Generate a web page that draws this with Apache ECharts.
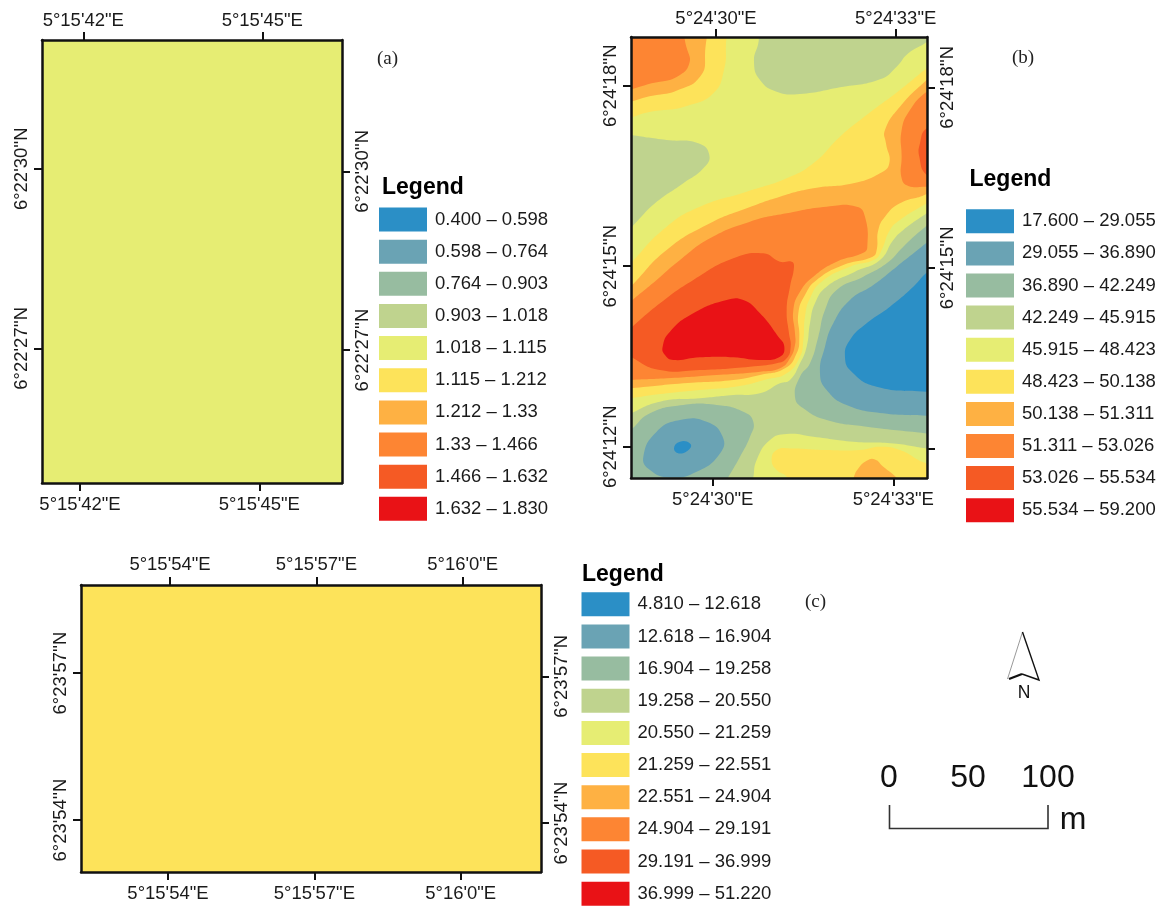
<!DOCTYPE html>
<html>
<head>
<meta charset="utf-8">
<style>html,body{margin:0;padding:0;background:#fff}#chart{width:1163px;height:906px}</style>
<script src="https://cdn.jsdelivr.net/npm/echarts@6/dist/echarts.min.js"></script>
</head>
<body>
<div id="chart"></div>
<script>
// Class colours, lowest to highest
const classColors = ['#2B8FC6','#6AA3B4','#97BCA0','#BFD38E','#E6ED73','#FDE35A','#FEB143','#FD8533','#F55A24','#E91216'];

// Class breaks read from the three legends
const breaksA = ['0.400','0.598','0.764','0.903','1.018','1.115','1.212','1.33','1.466','1.632','1.830'];
const breaksB = ['17.600','29.055','36.890','42.249','45.915','48.423','50.138','51.311','53.026','55.534','59.200'];
const breaksC = ['4.810','12.618','16.904','19.258','20.550','21.259','22.551','24.904','29.191','36.999','51.220'];

// Tick positions (arc seconds) and their labels
const ticksA_E = [42, 45];
const ticksA_N = [27, 30];
const ticksB_E = [30, 33];
const ticksB_N = [12, 15, 18];
const ticksB_NRightLabels = [15, 18];
const ticksC_E = [54, 57, 60];
const ticksC_N = [54, 57];
const prefixA_E = "5°15'", prefixA_N = "6°22'";
const prefixB_E = "5°24'", prefixB_N = "6°24'";
const prefixC_N = "6°23'";

const b_c3_top = [[490,50],[475,130],[462,185],[480,240],[530,275],[600,282],[720,262],[840,238],[890,200],[925,160],[985,122],[1050,60]];
const b_c3_left = [[30,395],[92,405],[200,420],[295,430],[328,465],[310,505],[250,550],[165,610],[110,665],[30,745]];
const b_ge5_topleft = [[30,30],[380,30],[378,130],[372,210],[340,280],[260,318],[170,332],[30,340]];
const b_ge6_topleft = [[30,30],[298,30],[315,170],[300,230],[240,268],[170,285],[30,292]];
const b_ge7_topleft = [[30,30],[215,30],[262,150],[268,190],[240,225],[180,245],[30,254]];
const b_ge5_main = [[30,860],[92,790],[200,680],[300,620],[440,575],[560,535],[640,490],[720,410],[800,345],[900,270],[980,205],[1050,150],[1050,565],[980,610],[900,660],[870,690],[845,750],[825,778],[750,800],[665,845],[630,895],[615,950],[610,1020],[600,1070],[560,1120],[500,1138],[420,1158],[300,1170],[200,1180],[92,1195],[30,1205]];
const b_ge6_main = [[30,920],[92,860],[200,750],[330,670],[440,625],[540,590],[640,565],[760,550],[840,520],[868,490],[858,430],[855,390],[900,320],[980,240],[1050,180],[1050,535],[980,582],[900,610],[855,650],[835,690],[830,750],[818,770],[730,795],[650,840],[615,885],[595,940],[598,1010],[590,1060],[555,1105],[480,1125],[400,1140],[250,1150],[92,1165],[30,1170]];
const b_ge7_main = [[30,960],[92,905],[170,840],[240,780],[330,715],[450,665],[560,640],[680,620],[770,620],[795,650],[802,740],[790,758],[710,785],[640,830],[600,875],[580,930],[585,1000],[585,1035],[570,1075],[540,1105],[480,1115],[350,1125],[200,1135],[92,1140],[30,1145]];
const b_ge7_right = [[1050,235],[980,275],[930,330],[905,390],[905,470],[905,535],[925,558],[980,560],[1050,560]];
const b_ge8_right = [[1050,360],[980,385],[960,430],[958,470],[980,525],[1050,560]];
const b_ge8_main = [[30,1040],[92,985],[180,910],[280,840],[400,775],[490,760],[540,785],[575,785],[582,800],[570,860],[560,930],[567,1000],[572,1040],[560,1075],[530,1090],[450,1100],[300,1110],[180,1110],[92,1070],[30,1030]];
const b_c9_main = [[188,1040],[210,995],[280,940],[380,900],[430,900],[480,940],[535,1010],[553,1040],[540,1070],[480,1080],[400,1072],[300,1072],[220,1080],[195,1065]];
const b_le3_lower = [[30,1270],[92,1240],[180,1205],[300,1195],[400,1185],[480,1180],[540,1150],[570,1140],[600,1090],[620,1040],[630,970],[645,910],[680,860],[765,815],[840,780],[880,720],[910,690],[980,640],[1050,590],[1070,1500],[30,1500]];
const b_le2_sw = [[30,1335],[92,1290],[150,1240],[250,1215],[350,1215],[430,1235],[460,1265],[450,1310],[420,1370],[380,1440],[350,1495],[30,1495]];
const b_le1_sw = [[130,1370],[170,1295],[240,1260],[320,1265],[368,1310],[360,1360],[290,1415],[210,1432],[150,1410]];
const b_c0_sw = [[222,1345],[240,1325],[270,1330],[270,1345],[240,1360]];
const b_le2_se = [[1050,630],[965,690],[910,740],[860,790],[790,830],[710,870],[675,930],[655,1010],[630,1090],[600,1130],[585,1190],[610,1225],[680,1260],[800,1280],[980,1300],[1060,1310]];
const b_le1_se = [[1050,670],[978,730],[890,800],[820,855],[750,900],[700,970],[675,1040],[660,1120],[680,1170],[740,1215],[850,1240],[980,1247],[1060,1250]];
const b_c0_se = [[1050,760],[978,820],[940,860],[870,920],[800,970],[750,1020],[735,1070],[755,1115],[830,1160],[980,1175],[1060,1180]];
const b_ge4_south = [[450,1490],[460,1433],[470,1380],[510,1320],[560,1302],[640,1310],[760,1325],[880,1330],[980,1345],[1060,1355],[1060,1490]];
const b_ge5_south = [[515,1380],[530,1350],[570,1345],[680,1350],[780,1350],[840,1340],[900,1350],[980,1390],[1060,1400],[1060,1490],[600,1490],[560,1430],[530,1410]];
const b_ge6_south = [[745,1490],[762,1430],[775,1405],[800,1382],[825,1378],[850,1400],[890,1433],[940,1490]];
const b_base = [[0,0],[1100,0],[1100,1550],[0,1550]];

// class index, contour — painted in order
const bandsB = [
  [4,b_base],[3,b_c3_top],[3,b_c3_left],
  [3,b_le3_lower],[2,b_le2_sw],[1,b_le1_sw],[0,b_c0_sw],
  [2,b_le2_se],[1,b_le1_se],[0,b_c0_se],
  [4,b_ge4_south],[5,b_ge5_south],[6,b_ge6_south],
  [5,b_ge5_topleft],[6,b_ge6_topleft],[7,b_ge7_topleft],
  [5,b_ge5_main],[6,b_ge6_main],[7,b_ge7_main],[7,b_ge7_right],[8,b_ge8_right],[8,b_ge8_main],[9,b_c9_main]
];
const sheetToLonLat = p => [30 + (p[0] - 348) / 179.7, 18 - (p[1] - 257) / 180.5];

// Panels (a) and (c): a single class over the whole extent
const classA = 4;
const classC = 5;
const extentA = {lon:[41.308,46.336], lat:[24.75,32.15]};
const extentC = {lon:[52.175,61.605], lat:[52.942,58.795]};

const font = 'Liberation Sans';
const mid = (br,i) => (parseFloat(br[i]) + parseFloat(br[i+1])) / 2;
const rectOf = e => [[e.lon[0],e.lat[0]],[e.lon[1],e.lat[0]],[e.lon[1],e.lat[1]],[e.lon[0],e.lat[1]]];

const ringsA = [rectOf(extentA)];
const ringsB = bandsB.map(b => b[1].map(sheetToLonLat));
const ringsC = [rectOf(extentC)];

function bandSeries(name, idx, rings, classes, breaks, smooth){
  return {
    type:'custom', name, coordinateSystem:'cartesian2d',
    xAxisIndex: idx*2, yAxisIndex: idx*2, clip:true, silent:true, animation:false,
    dimensions:['lon','lat','value'], encode:{x:0,y:1},
    data: rings.map((r,i)=>[r[0][0], r[0][1], mid(breaks, classes[i])]),
    renderItem(params, api){
      return {type:'polygon', shape:{points:rings[params.dataIndex].map(p=>api.coord(p)), smooth},
        style:{fill:api.visual('color')}};
    }
  };
}
function lonAxis(gridIndex, pos, min, max, ticks, fmt, margin){
  return {type:'value', gridIndex, position:pos, min, max, z:10, splitLine:{show:false},
    axisLine:{show:true, onZero:false, lineStyle:{color:'#111', width:2.5}},
    axisTick:{show:true, customValues:ticks, length:8, lineStyle:{color:'#111', width:2}},
    axisLabel:{show:true, customValues:ticks, formatter:fmt, margin, fontFamily:font, fontSize:18.5, color:'#1a1a1a', hideOverlap:false}};
}
function latAxis(gridIndex, pos, min, max, ticks, fmt, labelTicks){
  return {type:'value', gridIndex, position:pos, min, max, z:10, splitLine:{show:false},
    axisLine:{show:true, onZero:false, lineStyle:{color:'#111', width:2.5}},
    axisTick:{show:true, customValues:ticks, length:8, lineStyle:{color:'#111', width:2}},
    axisLabel:{show:true, customValues:labelTicks||ticks, formatter:fmt, rotate:90, margin:11, fontFamily:font, fontSize:18.5, color:'#1a1a1a', hideOverlap:false}};
}
const fE = p => v => `${p}${v}"E`;
const fN = p => v => `${p}${v}''N`;
const fC_E = v => v === 60 ? `5°16'0"E` : `5°15'${v}"E`;

function legendMap(seriesIndex, breaks, left, top, gap){
  return {type:'piecewise', seriesIndex, dimension:2, left, top, orient:'vertical', inverse:true, align:'left',
    itemWidth:48, itemHeight:24, itemGap:gap, textGap:8, padding:0, selectedMode:false, hoverLink:false, itemSymbol:'rect',
    textStyle:{fontFamily:font, fontSize:18.5, color:'#1a1a1a'},
    pieces: classColors.map((color,i)=>({min:parseFloat(breaks[i]), max:parseFloat(breaks[i+1]), label:`${breaks[i]} – ${breaks[i+1]}`, color}))};
}
function legendTitle(left, top){
  return {text:'Legend', left, top, padding:0, textStyle:{fontFamily:font, fontSize:23, fontWeight:'bold', color:'#000'}};
}
function tag(text, x, y){
  return {type:'text', left:x, top:y, silent:true, style:{text, fontFamily:'Liberation Serif', fontSize:19, fill:'#222'}};
}
function bigText(text, cx, cy, size){
  return {type:'text', x:cx, y:cy, silent:true, style:{text, fontFamily:font, fontSize:size, fill:'#111', align:'center', verticalAlign:'middle'}};
}

const option = {
  backgroundColor:'#fff', animation:false,
  title:[legendTitle(382,176), legendTitle(969.5,168), legendTitle(582,563)],
  grid:[
    {left:42, top:40, width:300, height:443},
    {left:631, top:37, width:296, height:441},
    {left:81, top:585, width:460, height:287}
  ],
  xAxis:[
    lonAxis(0,'top',41.308,46.336,ticksA_E,fE(prefixA_E),10),
    lonAxis(0,'bottom',41.364,46.384,ticksA_E,fE(prefixA_E),12),
    lonAxis(1,'top',28.581,33.523,ticksB_E,fE(prefixB_E),9),
    lonAxis(1,'bottom',28.643,33.56,ticksB_E,fE(prefixB_E),12),
    lonAxis(2,'top',52.175,61.605,ticksC_E,fC_E,11),
    lonAxis(2,'bottom',52.217,61.646,ticksC_E,fC_E,12)
  ],
  yAxis:[
    latAxis(0,'left',24.75,32.15,ticksA_N,fN(prefixA_N)),
    latAxis(0,'right',24.767,32.204,ticksA_N,fN(prefixA_N)),
    latAxis(1,'left',11.48,18.809,ticksB_N,fN(prefixB_N)),
    latAxis(1,'right',11.506,18.836,ticksB_N,fN(prefixB_N),ticksB_NRightLabels),
    latAxis(2,'left',52.942,58.795,ticksC_N,fN(prefixC_N)),
    latAxis(2,'right',53.001,58.866,ticksC_N,fN(prefixC_N))
  ],
  visualMap:[
    legendMap(0,breaksA,379,207.5,8.15),
    legendMap(1,breaksB,966,209.3,8.1),
    legendMap(2,breaksC,581.5,592.3,8.15)
  ],
  series:[
    bandSeries('a',0,ringsA,[classA],breaksA,0),
    bandSeries('b',1,ringsB,bandsB.map(b=>b[0]),breaksB,0.5),
    bandSeries('c',2,ringsC,[classC],breaksC,0)
  ],
  graphic:[
    tag('(a)',377,50), tag('(b)',1012,49), tag('(c)',805,593),
    // north arrow
    {type:'polyline', silent:true, shape:{points:[[1022.5,632],[1007.5,679]]}, style:{stroke:'#999',lineWidth:1,fill:'none'}},
    {type:'polyline', silent:true, shape:{points:[[1022.5,632],[1039,680],[1022,674]]}, style:{stroke:'#111',lineWidth:1.4,fill:'none'}},
    {type:'polyline', silent:true, shape:{points:[[1022,674],[1009,679]]}, style:{stroke:'#111',lineWidth:2.4,fill:'none'}},
    bigText('N',1024,693,17.5),
    // scale bar
    bigText('0',889,778.5,32), bigText('50',968,778.5,32), bigText('100',1048,778.5,32), bigText('m',1073,820,32),
    {type:'polyline', silent:true, shape:{points:[[889.5,805],[889.5,828.5],[1048,828.5],[1048,805]]}, style:{stroke:'#333',lineWidth:1.6,fill:'none'}}
  ]
};
const chart = echarts.init(document.getElementById('chart'), null, {renderer:'canvas', width:1163, height:906});
chart.setOption(option);
</script>
</body>
</html>
